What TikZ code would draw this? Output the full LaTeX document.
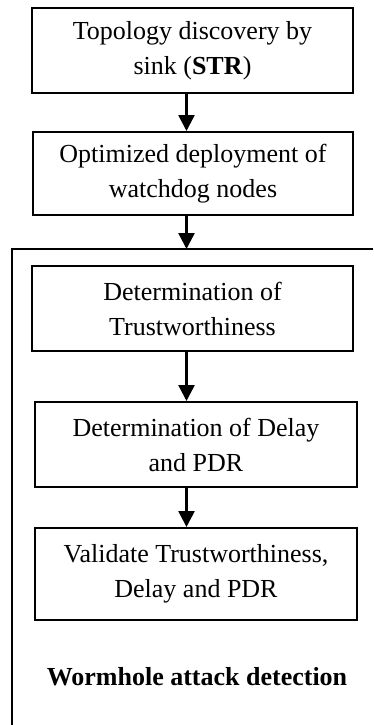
\documentclass[tikz,border=0pt]{standalone}
\usepackage{fontspec}
\setmainfont{Liberation Serif}
\usetikzlibrary{arrows.meta,calc}
\begin{document}
\begin{tikzpicture}[x=1pt,y=-1pt,
  stepbox/.style={draw,line width=2pt,inner sep=0pt,align=center,
    font=\fontsize{26}{35}\selectfont},
  flow/.style={line width=2.6pt,-{Triangle[length=16pt,width=16pt]}},
  frame/.style={line width=2pt}]
\useasboundingbox (0,0) rectangle (373,725);
% process steps
\node[stepbox,minimum width=321pt,minimum height=85pt] (b1) at (192.5,50.5)
  {Topology discovery by\\sink (\textbf{STR})};
\node[stepbox,minimum width=320pt,minimum height=83pt] (b2) at (193,173.5)
  {Optimized deployment of\\watchdog nodes};
\node[stepbox,minimum width=321pt,minimum height=85pt] (b3) at (192.5,308.5)
  {Determination of\\Trustworthiness};
\node[stepbox,minimum width=322pt,minimum height=85pt] (b4) at (196,444.5)
  {Determination of Delay\\and PDR};
\node[stepbox,minimum width=322pt,minimum height=92pt] (b5) at (196,574)
  {Validate Trustworthiness,\\Delay and PDR};
\node[font=\fontsize{26}{30}\selectfont\bfseries] (lbl) at (197,677)
  {Wormhole attack detection};
% detection stage frame
\coordinate (fl) at (12,249);
\coordinate (fr) at (373,249);
\coordinate (fb) at (12,725);
\draw[frame] (fr) -- (fl) -- (fb);
% connectors
\coordinate (axis) at (186.5,0);
\draw[flow] (b1.south -| axis) -- (b2.north -| axis);
\draw[flow] (b2.south -| axis) -- (fl -| axis);
\draw[flow] (b3.south -| axis) -- (b4.north -| axis);
\draw[flow] (b4.south -| axis) -- (b5.north -| axis);
\end{tikzpicture}
\end{document}
